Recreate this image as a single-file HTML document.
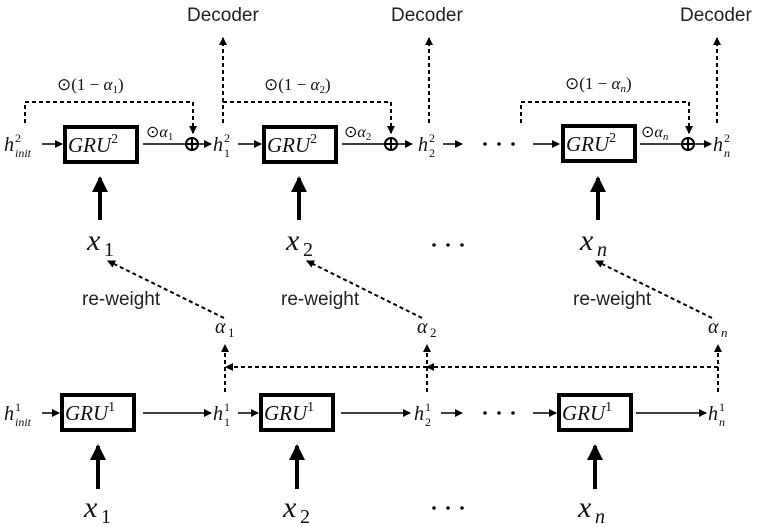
<!DOCTYPE html>
<html><head><meta charset="utf-8"><style>
html,body{margin:0;padding:0;background:#fff;}
svg{display:block;}
.m{font-family:"Liberation Serif",serif;font-style:italic;fill:#111;}
.r{font-family:"Liberation Serif",serif;font-style:normal;fill:#111;}
.s{font-family:"Liberation Sans",sans-serif;fill:#222;font-size:19px;}
</style></head><body>
<svg width="761" height="527" viewBox="0 0 761 527" xmlns="http://www.w3.org/2000/svg">
<defs>
<marker id="a" markerWidth="8" markerHeight="8" refX="7" refY="4" orient="auto" markerUnits="userSpaceOnUse"><path d="M0,0 L8,4 L0,8 Z" fill="#000"/></marker>
<marker id="b" markerWidth="16" markerHeight="16" refX="14" refY="8" orient="auto" markerUnits="userSpaceOnUse"><path d="M0,0 L16,8 L0,16 Z" fill="#000"/></marker>
</defs>
<g stroke="#000" fill="none">
<rect x="65" y="127" width="72" height="35" stroke-width="4"/>
<rect x="264" y="127" width="72" height="35" stroke-width="4"/>
<rect x="563" y="126" width="72" height="35" stroke-width="4"/>
<rect x="62" y="395" width="72" height="35" stroke-width="4"/>
<rect x="261" y="395" width="72" height="35" stroke-width="4"/>
<rect x="559" y="395" width="72" height="35" stroke-width="4"/>
<g stroke-width="1.5">
<line x1="42" y1="144" x2="62" y2="144" marker-end="url(#a)"/>
<line x1="143" y1="144" x2="186" y2="144"/>
<line x1="199" y1="144" x2="211" y2="144" marker-end="url(#a)"/>
<line x1="238" y1="144" x2="261" y2="144" marker-end="url(#a)"/>
<line x1="342" y1="144" x2="385" y2="144"/>
<line x1="398" y1="144" x2="412" y2="144" marker-end="url(#a)"/>
<line x1="443" y1="144" x2="462" y2="144" marker-end="url(#a)"/>
<line x1="533" y1="144" x2="559" y2="144" marker-end="url(#a)"/>
<line x1="640" y1="144" x2="682" y2="144"/>
<line x1="695" y1="144" x2="711" y2="144" marker-end="url(#a)"/>
<line x1="42" y1="413" x2="59" y2="413" marker-end="url(#a)"/>
<line x1="143" y1="413" x2="211" y2="413" marker-end="url(#a)"/>
<line x1="238" y1="413" x2="258" y2="413" marker-end="url(#a)"/>
<line x1="341" y1="413" x2="410" y2="413" marker-end="url(#a)"/>
<line x1="441" y1="413" x2="462" y2="413" marker-end="url(#a)"/>
<line x1="533" y1="413" x2="556" y2="413" marker-end="url(#a)"/>
<line x1="636" y1="413" x2="706" y2="413" marker-end="url(#a)"/>
</g>
<g stroke-width="2">
<circle cx="192" cy="144" r="6"/><line x1="186" y1="144" x2="198" y2="144"/><line x1="192" y1="138" x2="192" y2="150"/>
<circle cx="391" cy="144" r="6"/><line x1="385" y1="144" x2="397" y2="144"/><line x1="391" y1="138" x2="391" y2="150"/>
<circle cx="688" cy="144" r="6"/><line x1="682" y1="144" x2="694" y2="144"/><line x1="688" y1="138" x2="688" y2="150"/>
</g>
<g stroke-width="2" stroke-dasharray="4,3">
<polyline points="25,123 25,102 193,102 193,133" marker-end="url(#a)"/>
<polyline points="223,102 391,102 391,133" marker-end="url(#a)"/>
<polyline points="521,123 521,102 689,102 689,133" marker-end="url(#a)"/>
<line x1="223" y1="123" x2="223" y2="38" marker-end="url(#a)"/>
<line x1="429" y1="123" x2="429" y2="38" marker-end="url(#a)"/>
<line x1="717" y1="123" x2="717" y2="38" marker-end="url(#a)"/>
<line x1="225" y1="392" x2="225" y2="345" marker-end="url(#a)"/>
<line x1="427" y1="392" x2="427" y2="345" marker-end="url(#a)"/>
<line x1="718" y1="392" x2="718" y2="345" marker-end="url(#a)"/>
<line x1="718" y1="367" x2="427" y2="367" marker-end="url(#a)"/>
<line x1="427" y1="367" x2="226" y2="367" marker-end="url(#a)"/>
<line x1="224" y1="318" x2="108" y2="261" marker-end="url(#a)"/>
<line x1="422" y1="318" x2="307" y2="261" marker-end="url(#a)"/>
<line x1="712" y1="318" x2="596" y2="261" marker-end="url(#a)"/>
</g>
<g stroke-width="4">
<line x1="100" y1="220" x2="100" y2="178" marker-end="url(#b)"/>
<line x1="299" y1="220" x2="299" y2="178" marker-end="url(#b)"/>
<line x1="598" y1="220" x2="598" y2="178" marker-end="url(#b)"/>
<line x1="98" y1="489" x2="98" y2="446" marker-end="url(#b)"/>
<line x1="297" y1="489" x2="297" y2="446" marker-end="url(#b)"/>
<line x1="595" y1="489" x2="595" y2="446" marker-end="url(#b)"/>
</g>
</g>
<g class="m">
<text x="68" y="152" font-size="21">GRU<tspan font-style="normal" font-size="14" dy="-9">2</tspan></text>
<text x="267" y="152" font-size="21">GRU<tspan font-style="normal" font-size="14" dy="-9">2</tspan></text>
<text x="566" y="151" font-size="21">GRU<tspan font-style="normal" font-size="14" dy="-9">2</tspan></text>
<text x="65" y="420" font-size="21">GRU<tspan font-style="normal" font-size="14" dy="-9">1</tspan></text>
<text x="264" y="420" font-size="21">GRU<tspan font-style="normal" font-size="14" dy="-9">1</tspan></text>
<text x="562" y="420" font-size="21">GRU<tspan font-style="normal" font-size="14" dy="-9">1</tspan></text>

<text x="4" y="151" font-size="20">h</text><text x="15" y="142" font-size="12" class="r">2</text><text x="15" y="157" font-size="12">init</text>
<text x="213" y="151" font-size="20">h</text><text x="224" y="142" font-size="12" class="r">2</text><text x="224" y="157" font-size="12" class="r">1</text>
<text x="418" y="151" font-size="20">h</text><text x="429" y="142" font-size="12" class="r">2</text><text x="429" y="157" font-size="12" class="r">2</text>
<text x="713" y="151" font-size="20">h</text><text x="724" y="142" font-size="12" class="r">2</text><text x="724" y="157" font-size="12">n</text>

<text x="4" y="420" font-size="20">h</text><text x="15" y="411" font-size="12" class="r">1</text><text x="15" y="426" font-size="12">init</text>
<text x="213" y="420" font-size="20">h</text><text x="224" y="411" font-size="12" class="r">1</text><text x="224" y="426" font-size="12" class="r">1</text>
<text x="414" y="420" font-size="20">h</text><text x="425" y="411" font-size="12" class="r">1</text><text x="425" y="426" font-size="12" class="r">2</text>
<text x="708" y="420" font-size="20">h</text><text x="719" y="411" font-size="12" class="r">1</text><text x="719" y="426" font-size="12">n</text>

<text x="87" y="250" font-size="30">x</text><text x="104" y="256" font-size="20" class="r">1</text>
<text x="286" y="250" font-size="30">x</text><text x="303" y="256" font-size="20" class="r">2</text>
<text x="580" y="250" font-size="30">x</text><text x="597" y="256" font-size="20">n</text>
<text x="84" y="517" font-size="30">x</text><text x="101" y="523" font-size="20" class="r">1</text>
<text x="283" y="517" font-size="30">x</text><text x="300" y="523" font-size="20" class="r">2</text>
<text x="578" y="517" font-size="30">x</text><text x="595" y="523" font-size="20">n</text>

<text x="215" y="333" font-size="20">α</text><text x="228" y="337" font-size="13" class="r">1</text>
<text x="417" y="333" font-size="20">α</text><text x="430" y="337" font-size="13" class="r">2</text>
<text x="708" y="333" font-size="20">α</text><text x="721" y="337" font-size="13">n</text>

<text x="146" y="137" font-size="16"><tspan class="r">⊙</tspan>α<tspan font-size="11" font-style="normal" dy="3">1</tspan></text>
<text x="344" y="137" font-size="16"><tspan class="r">⊙</tspan>α<tspan font-size="11" font-style="normal" dy="3">2</tspan></text>
<text x="641" y="137" font-size="16"><tspan class="r">⊙</tspan>α<tspan font-size="11" dy="3">n</tspan></text>
<text x="57" y="90" font-size="17"><tspan class="r">⊙(1 − </tspan>α<tspan font-size="11" font-style="normal" dy="3">1</tspan><tspan class="r" dy="-3">)</tspan></text>
<text x="264" y="90" font-size="17"><tspan class="r">⊙(1 − </tspan>α<tspan font-size="11" font-style="normal" dy="3">2</tspan><tspan class="r" dy="-3">)</tspan></text>
<text x="565" y="89" font-size="17"><tspan class="r">⊙(1 − </tspan>α<tspan font-size="11" dy="3">n</tspan><tspan class="r" dy="-3">)</tspan></text>
</g>
<g fill="#111">
<circle cx="485" cy="144" r="1.8"/><circle cx="499" cy="144" r="1.8"/><circle cx="513" cy="144" r="1.8"/>
<circle cx="485" cy="413" r="1.8"/><circle cx="499" cy="413" r="1.8"/><circle cx="513" cy="413" r="1.8"/>
<circle cx="434" cy="245" r="1.8"/><circle cx="448" cy="245" r="1.8"/><circle cx="462" cy="245" r="1.8"/>
<circle cx="434" cy="508" r="1.8"/><circle cx="448" cy="508" r="1.8"/><circle cx="462" cy="508" r="1.8"/>
</g>
<text class="s" x="187" y="21">Decoder</text>
<text class="s" x="391" y="21">Decoder</text>
<text class="s" x="680" y="21">Decoder</text>
<text class="s" x="82" y="305">re-weight</text>
<text class="s" x="281" y="305">re-weight</text>
<text class="s" x="573" y="305">re-weight</text>
</svg>
</body></html>
